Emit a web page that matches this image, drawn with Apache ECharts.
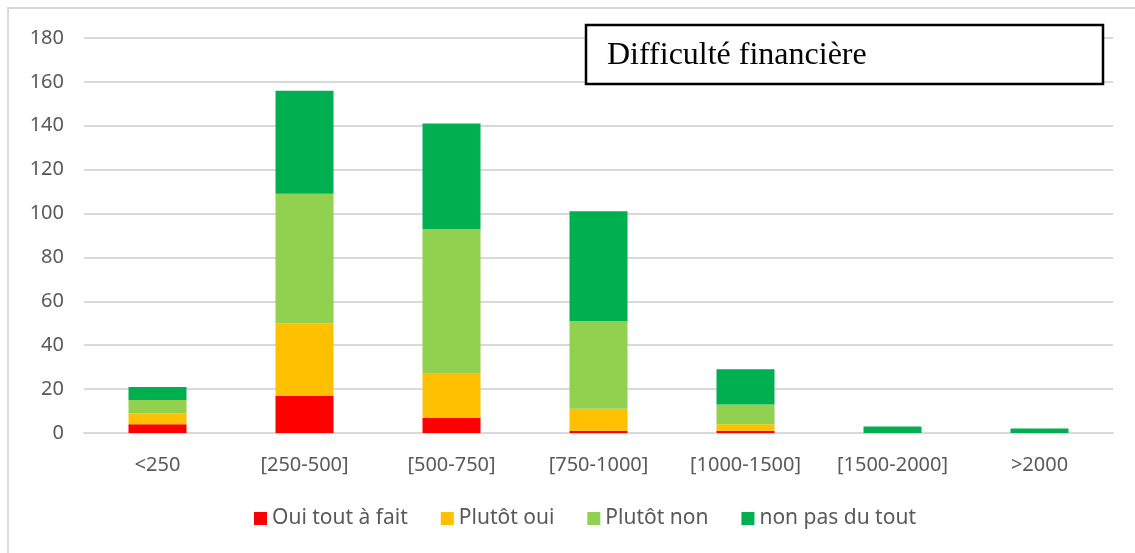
<!DOCTYPE html>
<html>
<head>
<meta charset="utf-8">
<title>Difficulté financière</title>
<script src="https://cdn.jsdelivr.net/npm/echarts@6/dist/echarts.min.js"></script>
<style>
    html, body { margin: 0; padding: 0; background: #fff; }
    #chart { width: 1135px; height: 553px; }
</style>
</head>
<body>
<div id="chart"></div>
<script>
'use strict';

// 数据
var categories = ['<250', '[250-500]', '[500-750]', '[750-1000]', '[1000-1500]', '[1500-2000]', '>2000'];
var ouiToutAFait = [4, 17, 7, 1, 1, 0, 0];
var plutotOui = [5, 33, 20, 10, 3, 0, 0];
var plutotNon = [6, 59, 66, 40, 9, 0, 0];
var nonPasDuTout = [6, 47, 48, 50, 16, 3, 2];
var yTicks = [0, 20, 40, 60, 80, 100, 120, 140, 160, 180];

var seriesNames = ['Oui tout à fait', 'Plutôt oui', 'Plutôt non', 'non pas du tout'];
var seriesColors = ['#ff0000', '#ffc000', '#92d050', '#00b050'];
var seriesData = [ouiToutAFait, plutotOui, plutotNon, nonPasDuTout];

var labelFont = '"Noto Sans", sans-serif';
var myChart = echarts.init(document.getElementById('chart'));

var series = seriesNames.map(function(name, i) {
    return {
        name: name,
        type: 'bar',
        stack: 'total',
        barWidth: 58,
        itemStyle: { color: seriesColors[i] },
        data: seriesData[i]
    };
});

var option = {
    backgroundColor: '#fff',
    animation: false,
    color: seriesColors,
    grid: {
        left: 84,
        right: 22,
        top: 38,
        bottom: 120
    },
    legend: {
        data: seriesNames,
        bottom: 19,
        left: 249,
        itemWidth: 13,
        itemHeight: 13,
        itemGap: 33,
        icon: 'rect',
        textStyle: { color: '#595959', fontSize: 21, fontFamily: labelFont }
    },
    xAxis: {
        type: 'category',
        data: categories,
        axisLine: { lineStyle: { color: '#d9d9d9', width: 2 } },
        axisTick: { show: false },
        axisLabel: { color: '#595959', fontSize: 20, fontFamily: labelFont, margin: 22 }
    },
    yAxis: {
        type: 'value',
        min: yTicks[0],
        max: yTicks[yTicks.length - 1],
        interval: yTicks[1] - yTicks[0],
        axisLine: { show: false },
        axisTick: { show: false },
        splitLine: { lineStyle: { color: '#d9d9d9', width: 2 } },
        axisLabel: { color: '#595959', fontSize: 20, fontFamily: labelFont, margin: 20 }
    },
    graphic: [
        // cadre du graphique
        {
            type: 'rect',
            z: 0,
            silent: true,
            shape: { x: 8, y: 8, width: 1140, height: 560 },
            style: { fill: 'none', stroke: '#d9d9d9', lineWidth: 2 }
        },
        // encadré du titre
        {
            type: 'rect',
            z: 100,
            shape: { x: 586, y: 25, width: 517, height: 59 },
            style: { fill: '#fff', stroke: '#000', lineWidth: 2.5 }
        },
        {
            type: 'text',
            z: 101,
            x: 607,
            y: 56,
            style: {
                text: 'Difficulté financière',
                fill: '#000',
                font: '32px "Liberation Serif", serif',
                verticalAlign: 'middle'
            }
        }
    ],
    series: series
};

myChart.setOption(option);
</script>
</body>
</html>
